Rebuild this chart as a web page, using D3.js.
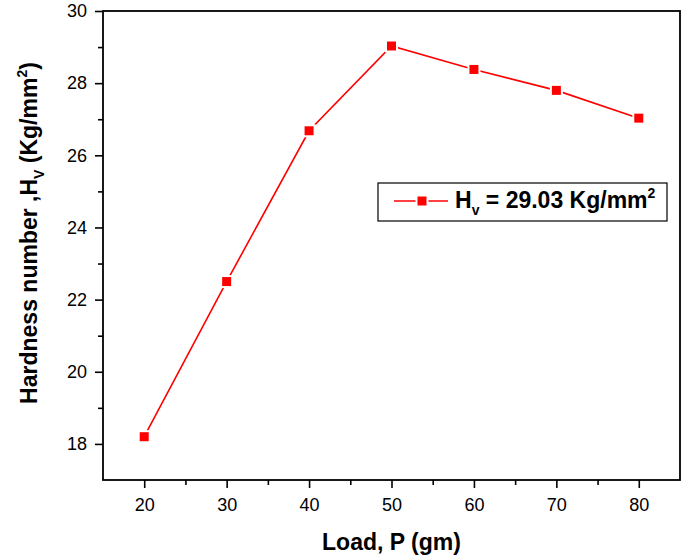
<!DOCTYPE html>
<html lang="en">
<head>
    <meta charset="UTF-8">
    <title>Hardness number vs Load</title>
    <script src="https://d3js.org/d3.v7.min.js"></script>
    <style>
        body { margin: 0; background: #fff; }
        text { font-family: "Liberation Sans", Arial, sans-serif; fill: #000; }
        .tick-label { font-size: 18px; }
        .axis-title { font-size: 23px; font-weight: bold; }
        .legend-text { font-size: 23px; font-weight: bold; }
    </style>
</head>
<body>
    <div id="chart"></div>

    <script>
        // Data
        const loads = [20, 30, 40, 50, 60, 70, 80];
        const hardness = [18.2, 22.5, 26.68, 29.03, 28.38, 27.8, 27.03];
        const xTicks = [20, 30, 40, 50, 60, 70, 80];
        const yTicks = [18, 20, 22, 24, 26, 28, 30];

        const W = 685, H = 557;
        const margin = { top: 11, right: 5, bottom: 77, left: 103 };
        const width = W - margin.left - margin.right,
              height = H - margin.top - margin.bottom;

        const svg = d3.select("#chart")
            .append("svg")
            .attr("width", W)
            .attr("height", H);

        const g = svg.append("g")
            .attr("transform", `translate(${margin.left},${margin.top})`);

        // Scales
        const x = d3.scaleLinear().domain([15, 85]).range([0, width]);
        const y = d3.scaleLinear().domain([17, 30]).range([height, 0]);

        // Minor ticks first
        g.append("g")
            .attr("transform", `translate(0,${height})`)
            .call(d3.axisBottom(x).tickValues(d3.range(25, 85, 10)).tickSize(5).tickFormat(""))
            .call(a => a.select(".domain").remove())
            .selectAll("line").attr("stroke", "#000").attr("stroke-width", 1.6);

        g.append("g")
            .call(d3.axisLeft(y).tickValues(d3.range(19, 30, 2)).tickSize(5).tickFormat(""))
            .call(a => a.select(".domain").remove())
            .selectAll("line").attr("stroke", "#000").attr("stroke-width", 1.6);

        // Major ticks + labels
        const xAxis = g.append("g")
            .attr("transform", `translate(0,${height})`)
            .call(d3.axisBottom(x).tickValues(xTicks).tickSize(8).tickPadding(10))
            .call(a => a.select(".domain").remove());
        xAxis.selectAll("line").attr("stroke", "#000").attr("stroke-width", 1.6);
        xAxis.selectAll("text").attr("class", "tick-label").attr("font-size", null).attr("font-family", null);

        const yAxis = g.append("g")
            .call(d3.axisLeft(y).tickValues(yTicks).tickSize(8).tickPadding(8))
            .call(a => a.select(".domain").remove());
        yAxis.selectAll("line").attr("stroke", "#000").attr("stroke-width", 1.6);
        yAxis.selectAll("text").attr("class", "tick-label").attr("font-size", null).attr("font-family", null);

        // Frame
        g.append("rect")
            .attr("width", width)
            .attr("height", height)
            .attr("fill", "none")
            .attr("stroke", "#000")
            .attr("stroke-width", 1.8);

        // Line + markers
        const pts = loads.map((l, i) => ({ x: l, y: hardness[i] }));

        g.append("path")
            .datum(pts)
            .attr("fill", "none")
            .attr("stroke", "#ff0000")
            .attr("stroke-width", 1.6)
            .attr("d", d3.line().x(d => x(d.x)).y(d => y(d.y)));

        const ms = 11;
        g.selectAll("rect.marker")
            .data(pts)
            .enter()
            .append("rect")
            .attr("class", "marker")
            .attr("x", d => x(d.x) - ms / 2)
            .attr("y", d => y(d.y) - ms / 2)
            .attr("width", ms)
            .attr("height", ms)
            .attr("fill", "#ff0000")
            .attr("stroke", "#fff")
            .attr("stroke-width", 2);

        // Legend
        const legend = g.append("g").attr("transform", "translate(275,172)");
        legend.append("rect")
            .attr("width", 289)
            .attr("height", 38)
            .attr("fill", "#fff")
            .attr("stroke", "#000")
            .attr("stroke-width", 1.2);
        legend.append("line")
            .attr("x1", 16).attr("x2", 70)
            .attr("y1", 18).attr("y2", 18)
            .attr("stroke", "#ff0000").attr("stroke-width", 1.6);
        legend.append("rect")
            .attr("x", 44 - ms / 2).attr("y", 18 - ms / 2)
            .attr("width", ms).attr("height", ms)
            .attr("fill", "#ff0000")
            .attr("stroke", "#fff").attr("stroke-width", 2);
        const lt = legend.append("text")
            .attr("class", "legend-text")
            .attr("x", 77)
            .attr("y", 25);
        lt.append("tspan").text("H");
        lt.append("tspan").attr("font-size", "14px").attr("dy", 7).text("v");
        lt.append("tspan").attr("dy", -7).text(" = 29.03 Kg/mm");
        lt.append("tspan").attr("font-size", "14px").attr("dy", -10).text("2");

        // Axis titles
        svg.append("text")
            .attr("class", "axis-title")
            .attr("x", margin.left + width / 2)
            .attr("y", 550)
            .attr("text-anchor", "middle")
            .text("Load, P (gm)");

        const yt = svg.append("text")
            .attr("class", "axis-title")
            .attr("transform", "translate(37,233) rotate(-90)")
            .attr("text-anchor", "middle");
        yt.append("tspan").text("Hardness number ,H");
        yt.append("tspan").attr("font-size", "14px").attr("dy", 7).text("V");
        yt.append("tspan").attr("dy", -7).text(" (Kg/mm");
        yt.append("tspan").attr("font-size", "14px").attr("dy", -10).text("2");
        yt.append("tspan").attr("dy", 10).text(")");
    </script>
</body>
</html>
